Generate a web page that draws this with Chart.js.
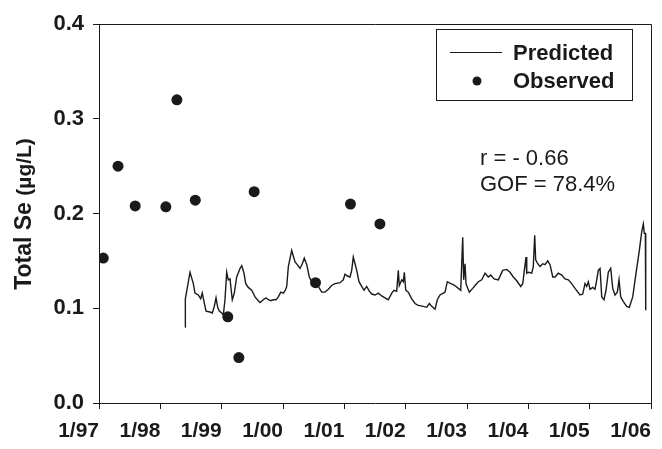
<!DOCTYPE html>
<html>
<head>
<meta charset="utf-8">
<script src="https://cdn.jsdelivr.net/npm/chart.js@4.4.1/dist/chart.umd.min.js"></script>
<style>
	body { margin: 0; background: #fff; }
	#wrap { width: 662px; height: 449px; }
</style>
</head>
<body>
<div id="wrap"><canvas id="seChart" width="662" height="449"></canvas></div>
<script>
// x tick labels (one per January, 1997..2006)
const tickYears = [1997, 1998, 1999, 2000, 2001, 2002, 2003, 2004, 2005, 2006];
const tickLabels = ["1/97", "1/98", "1/99", "1/00", "1/01", "1/02", "1/03", "1/04", "1/05", "1/06"];
const yTicks = [0.0, 0.1, 0.2, 0.3, 0.4];

// Observed total Se samples (decimal year, ug/L)
const obsX = [1997.07, 1997.31, 1997.59, 1998.09, 1998.27, 1998.57, 1999.10, 1999.28, 1999.53, 2000.53, 2001.10, 2001.58];
const obsY = [0.153, 0.250, 0.208, 0.207, 0.320, 0.214, 0.091, 0.048, 0.223, 0.127, 0.210, 0.189];

// Predicted total Se (decimal year, ug/L)
const predX = [
	1998.407, 1998.408, 1998.484, 1998.538, 1998.565, 1998.619, 1998.658, 1998.684, 1998.712, 1998.745,
	1998.810, 1998.847, 1998.880, 1998.908, 1998.935, 1998.962, 1999.001, 1999.027, 1999.054, 1999.082,
	1999.108, 1999.136, 1999.173, 1999.206, 1999.245, 1999.299, 1999.327, 1999.364, 1999.392, 1999.434,
	1999.490, 1999.544, 1999.597, 1999.625, 1999.679, 1999.723, 1999.760, 1999.800, 1999.842, 1999.886,
	1999.924, 1999.963, 2000.005, 2000.038, 2000.061, 2000.087, 2000.142, 2000.196, 2000.233, 2000.277,
	2000.315, 2000.347, 2000.387, 2000.429, 2000.468, 2000.576, 2000.631, 2000.685, 2000.739, 2000.794,
	2000.848, 2000.930, 2000.983, 2001.011, 2001.049, 2001.093, 2001.120, 2001.146, 2001.174, 2001.202,
	2001.239, 2001.283, 2001.321, 2001.365, 2001.407, 2001.446, 2001.500, 2001.554, 2001.609, 2001.663,
	2001.717, 2001.773, 2001.810, 2001.854, 2001.880, 2001.896, 2001.936, 2001.962, 2001.978, 2002.001,
	2002.043, 2002.099, 2002.152, 2002.206, 2002.288, 2002.343, 2002.386, 2002.425, 2002.479, 2002.516,
	2002.560, 2002.614, 2002.642, 2002.679, 2002.735, 2002.777, 2002.821, 2002.858, 2002.898, 2002.930,
	2002.946, 2002.968, 2002.984, 2003.012, 2003.038, 2003.093, 2003.131, 2003.185, 2003.240, 2003.294,
	2003.348, 2003.387, 2003.441, 2003.511, 2003.582, 2003.648, 2003.701, 2003.755, 2003.811, 2003.876,
	2003.909, 2003.935, 2003.962, 2003.974, 2004.000, 2004.055, 2004.081, 2004.104, 2004.120, 2004.153,
	2004.191, 2004.235, 2004.272, 2004.316, 2004.354, 2004.398, 2004.435, 2004.489, 2004.545, 2004.598,
	2004.652, 2004.707, 2004.761, 2004.843, 2004.887, 2004.924, 2004.952, 2004.978, 2005.006, 2005.050,
	2005.087, 2005.115, 2005.141, 2005.169, 2005.197, 2005.234, 2005.267, 2005.304, 2005.343, 2005.376,
	2005.413, 2005.451, 2005.479, 2005.506, 2005.549, 2005.604, 2005.647, 2005.702, 2005.756, 2005.810,
	2005.849, 2005.875, 2005.891, 2005.908, 2005.914
];
const predY = [
	0.080, 0.110, 0.138, 0.126, 0.116, 0.114, 0.110, 0.116, 0.107, 0.097,
	0.096, 0.095, 0.102, 0.111, 0.101, 0.097, 0.095, 0.093, 0.109, 0.138,
	0.130, 0.131, 0.109, 0.116, 0.133, 0.142, 0.145, 0.137, 0.126, 0.122,
	0.119, 0.112, 0.108, 0.106, 0.109, 0.111, 0.109, 0.108, 0.109, 0.109,
	0.112, 0.117, 0.116, 0.119, 0.123, 0.144, 0.161, 0.149, 0.146, 0.142,
	0.147, 0.153, 0.146, 0.133, 0.128, 0.123, 0.117, 0.117, 0.120, 0.124,
	0.126, 0.127, 0.130, 0.136, 0.134, 0.133, 0.140, 0.154, 0.147, 0.140,
	0.128, 0.123, 0.119, 0.123, 0.118, 0.115, 0.114, 0.116, 0.113, 0.111,
	0.109, 0.116, 0.119, 0.118, 0.140, 0.124, 0.130, 0.128, 0.138, 0.119,
	0.117, 0.110, 0.105, 0.103, 0.102, 0.101, 0.105, 0.102, 0.099, 0.109,
	0.114, 0.116, 0.117, 0.128, 0.126, 0.125, 0.123, 0.121, 0.119, 0.175,
	0.130, 0.147, 0.126, 0.121, 0.117, 0.121, 0.124, 0.128, 0.130, 0.137,
	0.133, 0.135, 0.131, 0.130, 0.140, 0.141, 0.138, 0.133, 0.129, 0.123,
	0.126, 0.140, 0.154, 0.137, 0.138, 0.137, 0.144, 0.177, 0.151, 0.147,
	0.144, 0.147, 0.146, 0.150, 0.146, 0.133, 0.133, 0.137, 0.135, 0.131,
	0.130, 0.126, 0.121, 0.114, 0.115, 0.126, 0.123, 0.128, 0.120, 0.122,
	0.120, 0.130, 0.140, 0.142, 0.112, 0.109, 0.119, 0.138, 0.142, 0.121,
	0.114, 0.117, 0.130, 0.112, 0.107, 0.102, 0.101, 0.112, 0.137, 0.161,
	0.181, 0.189, 0.179, 0.179, 0.098
];

const statLines = ["r = - 0.66", "GOF = 78.4%"];

const FONT = "'Liberation Sans', Arial, Helvetica, sans-serif";
const INK = "#1a1a1a";

// frame, y title, legend box and fit statistics
const decorPlugin = {
	id: "decor",
	afterDraw(chart) {
		const ctx = chart.ctx;
		const a = chart.chartArea;
		ctx.save();

		// top + right frame lines
		ctx.strokeStyle = INK;
		ctx.lineWidth = 1;
		ctx.beginPath();
		ctx.moveTo(a.left, a.top + 0.5);
		ctx.lineTo(a.right + 0.5, a.top + 0.5);
		ctx.lineTo(a.right + 0.5, a.bottom);
		ctx.stroke();

		// y axis title
		ctx.save();
		ctx.translate(25, 214);
		ctx.rotate(-Math.PI / 2);
		ctx.fillStyle = INK;
		ctx.textBaseline = "middle";
		const p1 = "Total Se ";
		const p2 = "(\u00b5g/L)";
		ctx.font = "bold 23px " + FONT;
		const w1 = ctx.measureText(p1).width;
		ctx.font = "bold 21px " + FONT;
		const w2 = ctx.measureText(p2).width;
		const x0 = -(w1 + w2) / 2;
		ctx.textAlign = "left";
		ctx.font = "bold 23px " + FONT;
		ctx.fillText(p1, x0, 0);
		ctx.font = "bold 21px " + FONT;
		ctx.fillText(p2, x0 + w1, 0);
		ctx.restore();

		// legend
		ctx.strokeStyle = INK;
		ctx.lineWidth = 1;
		ctx.strokeRect(436.5, 29.5, 196, 71);
		ctx.beginPath();
		ctx.moveTo(450, 52.5);
		ctx.lineTo(502, 52.5);
		ctx.stroke();
		ctx.fillStyle = INK;
		ctx.beginPath();
		ctx.arc(477, 81, 4.5, 0, Math.PI * 2);
		ctx.fill();
		ctx.font = "bold 22px " + FONT;
		ctx.textAlign = "left";
		ctx.textBaseline = "middle";
		ctx.fillText("Predicted", 513, 54);
		ctx.fillText("Observed", 513, 82);

		// statistics
		ctx.font = "22px " + FONT;
		ctx.textBaseline = "alphabetic";
		ctx.fillText(statLines[0], 480, 165);
		ctx.fillText(statLines[1], 480, 191);

		ctx.restore();
	},
};

const ctx = document.getElementById("seChart").getContext("2d");
const seChart = new Chart(ctx, {
	type: "line",
	data: {
		datasets: [
			{
				label: "Predicted",
				data: predX.map((x, i) => ({ x: x, y: predY[i] })),
				borderColor: INK,
				borderWidth: 1.4,
				pointRadius: 0,
				tension: 0,
				fill: false,
			},
			{
				label: "Observed",
				data: obsX.map((x, i) => ({ x: x, y: obsY[i] })),
				showLine: false,
				pointRadius: 5.5,
				pointBackgroundColor: INK,
				pointBorderColor: INK,
				pointBorderWidth: 0,
			},
		],
	},
	options: {
		responsive: false,
		animation: false,
		devicePixelRatio: 1,
		layout: { padding: { top: 24, right: 11, left: 0, bottom: 0 } },
		plugins: {
			legend: { display: false },
			tooltip: { enabled: false },
		},
		scales: {
			x: {
				type: "linear",
				min: tickYears[0],
				max: tickYears[tickYears.length - 1],
				afterBuildTicks: (scale) => {
					scale.ticks = tickYears.map((v) => ({ value: v }));
				},
				afterFit: (scale) => {
					scale.height = 46;
					scale.paddingLeft = 0;
					scale.paddingRight = 0;
				},
				grid: {
					drawOnChartArea: false,
					drawTicks: true,
					tickLength: 6,
					tickColor: INK,
				},
				border: { color: INK, width: 1 },
				ticks: {
					autoSkip: false,
					maxRotation: 0,
					padding: 10,
					align: "end",
					color: INK,
					font: { family: FONT, size: 21, weight: "bold" },
					callback: (v) => tickLabels[tickYears.indexOf(v)],
				},
			},
			y: {
				min: 0,
				max: 0.4,
				afterBuildTicks: (scale) => {
					scale.ticks = yTicks.map((v) => ({ value: v }));
				},
				afterFit: (scale) => {
					scale.width = 99;
				},
				grid: {
					drawOnChartArea: false,
					drawTicks: true,
					tickLength: 6,
					tickColor: INK,
				},
				border: { color: INK, width: 1 },
				ticks: {
					padding: 9,
					color: INK,
					font: { family: FONT, size: 22, weight: "bold" },
					callback: (v) => v.toFixed(1),
				},
			},
		},
	},
	plugins: [decorPlugin],
});
</script>
</body>
</html>
